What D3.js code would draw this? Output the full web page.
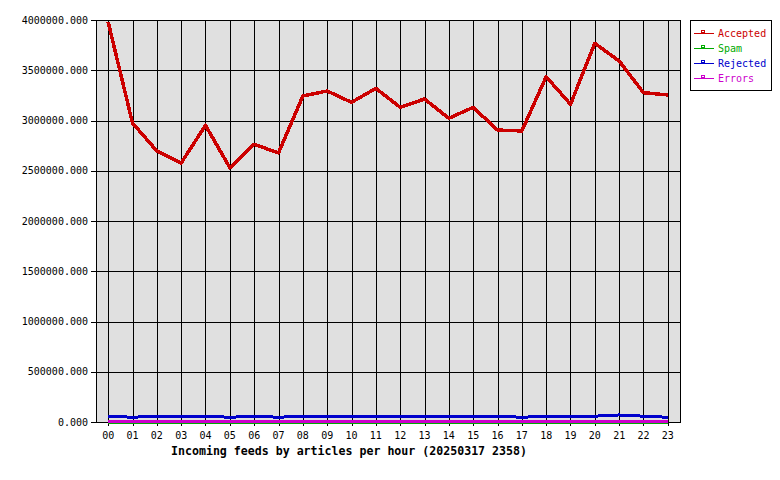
<!DOCTYPE html>
<html>
<head>
<meta charset="utf-8">
<script src="https://cdn.jsdelivr.net/npm/d3@7/dist/d3.min.js"></script>
<style>
  html, body { margin: 0; padding: 0; background: #ffffff; }
  svg { display: block; }
  text { font-family: "DejaVu Sans Mono", "Liberation Mono", monospace; }
</style>
</head>
<body>
<svg id="chart" width="780" height="480"></svg>
<script>
const hours = ["00","01","02","03","04","05","06","07","08","09","10","11",
               "12","13","14","15","16","17","18","19","20","21","22","23"];
const accepted = [3980000, 2975000, 2697000, 2577000, 2952000, 2530000, 2763000, 2677000,
                  3244000, 3294000, 3181000, 3320000, 3131000, 3214000, 3022000, 3131000,
                  2905000, 2896000, 3436000, 3161000, 3768000, 3592000, 3277000, 3254000];
const spam = [0,0,0,0,0,0,0,0,0,0,0,0,0,0,0,0,0,0,0,0,0,0,0,0];
const rejected = [58000, 47000, 58000, 58000, 58000, 47000, 58000, 47000,
                  58000, 58000, 58000, 58000, 58000, 58000, 58000, 58000,
                  58000, 47000, 58000, 58000, 58000, 70000, 58000, 47000];
const errors = [8000,8000,8000,8000,8000,8000,8000,8000,8000,8000,8000,8000,
                8000,8000,8000,8000,8000,8000,8000,8000,8000,8000,8000,8000];
const yTicks = [0, 500000, 1000000, 1500000, 2000000, 2500000, 3000000, 3500000, 4000000];
const seriesNames = ["Accepted", "Spam", "Rejected", "Errors"];
const seriesColors = ["#cc0000", "#00aa00", "#0000cc", "#cc00cc"];
const seriesWidths = [3.5, 3, 3, 3];
const title = "Incoming feeds by articles per hour (20250317 2358)";

(function () {
const svg = d3.select("#chart");
const pL = 96, pR = 680, pT = 20, pB = 422;

const x = d3.scaleBand().domain(hours).range([pL, pR]).paddingInner(0).paddingOuter(0);
const xc = h => x(h) + x.bandwidth() / 2;
const y = d3.scaleLinear().domain([0, 4000000]).range([pB, pT]);

svg.append("rect").attr("x", pL).attr("y", pT)
  .attr("width", pR - pL).attr("height", pB - pT)
  .attr("fill", "#e0e0e0");

const grid = svg.append("g").attr("shape-rendering", "crispEdges")
  .attr("stroke", "#000").attr("stroke-width", 1);

grid.selectAll("line.h").data(yTicks).enter().append("line")
  .attr("x1", pL - 5).attr("x2", pR)
  .attr("y1", d => Math.round(y(d)) + 0.5).attr("y2", d => Math.round(y(d)) + 0.5);

grid.selectAll("line.v").data(hours).enter().append("line")
  .attr("x1", d => Math.round(xc(d)) + 0.5).attr("x2", d => Math.round(xc(d)) + 0.5)
  .attr("y1", pT).attr("y2", pB + 4);

grid.append("rect").attr("x", pL + 0.5).attr("y", pT + 0.5)
  .attr("width", pR - pL).attr("height", pB - pT)
  .attr("fill", "none");

svg.selectAll("text.ylab").data(yTicks).enter().append("text")
  .attr("x", 88).attr("y", d => y(d) + 3.5)
  .attr("text-anchor", "end").attr("font-size", 10).attr("fill", "#000")
  .text(d => d3.format(".3f")(d));

svg.selectAll("text.xlab").data(hours).enter().append("text")
  .attr("x", d => xc(d)).attr("y", 438.5)
  .attr("text-anchor", "middle").attr("font-size", 10).attr("fill", "#000")
  .text(d => d);

svg.append("text").attr("x", 349).attr("y", 455)
  .attr("text-anchor", "middle").attr("font-size", 11.6).attr("font-weight", "bold")
  .attr("fill", "#000").text(title);

const allSeries = [accepted, spam, rejected, errors];
const line = d3.line().x((d, i) => xc(hours[i])).y(d => y(d));
allSeries.forEach((vals, k) => {
  svg.append("path").datum(vals)
    .attr("d", line)
    .attr("fill", "none")
    .attr("stroke", seriesColors[k])
    .attr("stroke-width", seriesWidths[k])
    .attr("stroke-linejoin", "round")
    .attr("shape-rendering", "crispEdges");
});

const lg = svg.append("g");
lg.append("rect").attr("x", 690.5).attr("y", 20.5).attr("width", 81).attr("height", 70)
  .attr("fill", "#fff").attr("stroke", "#000").attr("stroke-width", 1)
  .attr("shape-rendering", "crispEdges");
seriesNames.forEach((name, k) => {
  const yy = 33 + k * 15;
  lg.append("line").attr("x1", 694).attr("x2", 714).attr("y1", yy + 0.5).attr("y2", yy + 0.5)
    .attr("stroke", seriesColors[k]).attr("stroke-width", 1).attr("shape-rendering", "crispEdges");
  lg.append("rect").attr("x", 701.5).attr("y", yy - 2.5).attr("width", 3).attr("height", 2)
    .attr("fill", "none").attr("stroke", seriesColors[k]).attr("stroke-width", 1)
    .attr("shape-rendering", "crispEdges");
  lg.append("text").attr("x", 718).attr("y", yy + 4)
    .attr("font-size", 10).attr("fill", seriesColors[k]).text(name);
});
})();
</script>
</body>
</html>
